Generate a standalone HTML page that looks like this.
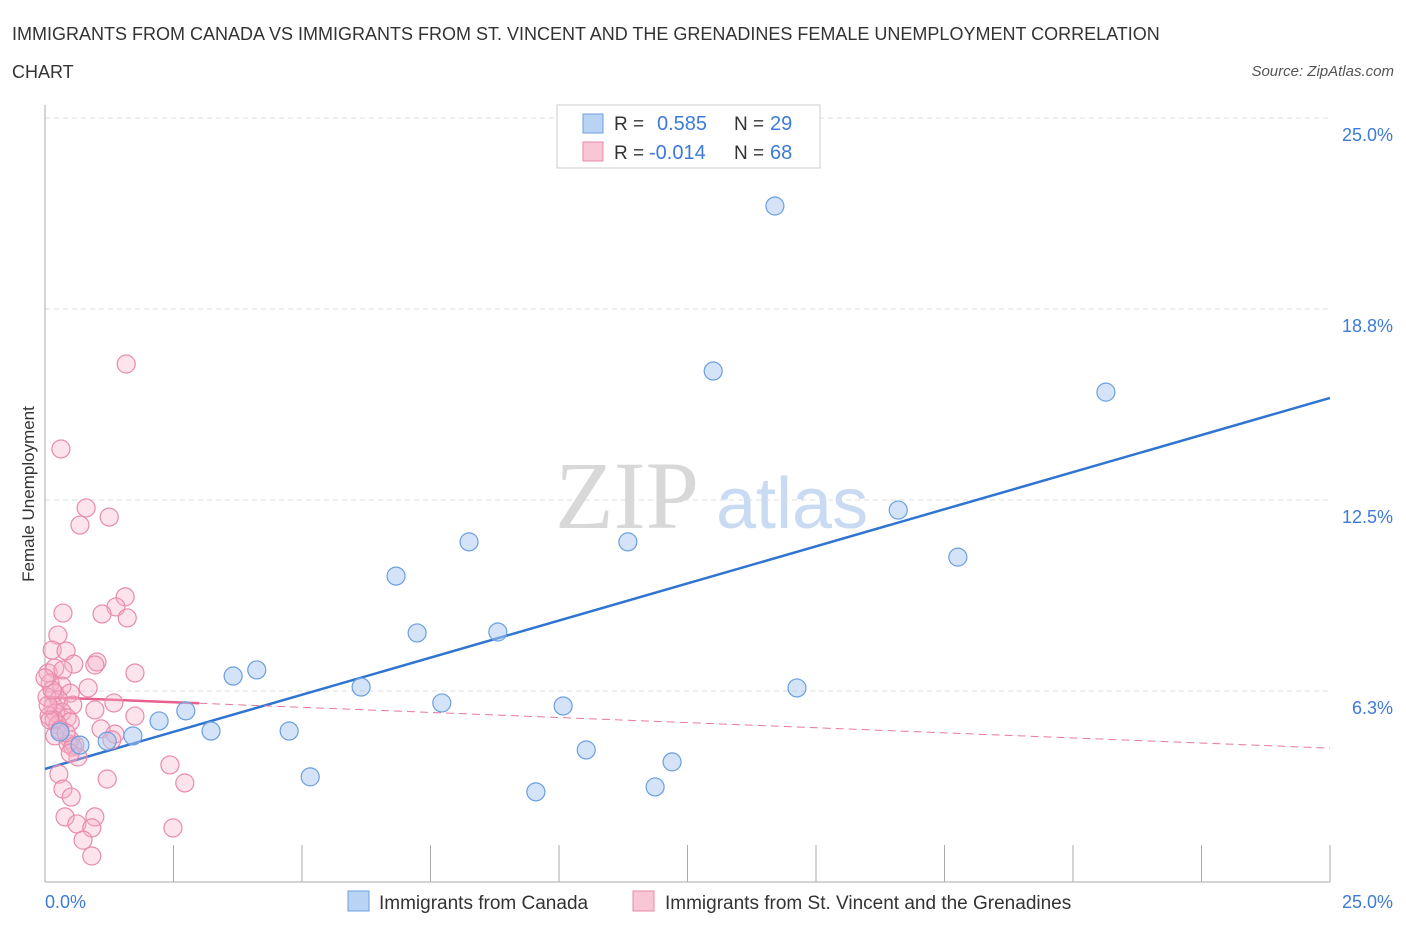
<!DOCTYPE html>
<html><head><meta charset="utf-8"><style>
body{margin:0;background:#fff;font-family:"Liberation Sans",sans-serif}
svg text{font-family:"Liberation Sans",sans-serif}
</style></head><body>
<svg width="1406" height="930" viewBox="0 0 1406 930">
<text x="12" y="40" font-size="18" fill="#333">IMMIGRANTS FROM CANADA VS IMMIGRANTS FROM ST. VINCENT AND THE GRENADINES FEMALE UNEMPLOYMENT CORRELATION</text>
<text x="12" y="78" font-size="18" fill="#333">CHART</text>
<text x="1394" y="76" font-size="15" fill="#555" font-style="italic" text-anchor="end">Source: ZipAtlas.com</text>
<g>
<text x="555" y="528" font-size="96" fill="#d8d8d8" font-family="Liberation Serif" style="font-family:'Liberation Serif',serif">ZIP</text>
<text x="716" y="528" font-size="72" fill="#c9daf3">atlas</text>
</g>
<g id="grid"></g>
<g id="axes"></g>
<g id="lines"></g>
<g id="pts"></g>
<text transform="translate(34,494) rotate(-90)" font-size="17" fill="#333" text-anchor="middle">Female Unemployment</text>
<text x="45" y="908" font-size="18" fill="#3d7bd9">0.0%</text>
<text x="1393" y="908" font-size="18" fill="#3d7bd9" text-anchor="end">25.0%</text>
<g>
<rect x="557" y="105" width="263" height="63" fill="#fff" stroke="#ccc"/>
<rect x="583" y="114" width="20" height="19" fill="#b9d3f5" stroke="#6a9fe0"/>
<text x="614" y="130" font-size="19" fill="#333">R =</text>
<text x="657" y="130" font-size="20" fill="#3d7bd9">0.585</text>
<text x="734" y="130" font-size="19" fill="#333">N =</text>
<text x="770" y="130" font-size="20" fill="#3d7bd9">29</text>
<rect x="583" y="142" width="20" height="19" fill="#f9c6d5" stroke="#e889a8"/>
<text x="614" y="159" font-size="19" fill="#333">R =</text>
<text x="649" y="159" font-size="20" fill="#3d7bd9">-0.014</text>
<text x="734" y="159" font-size="19" fill="#333">N =</text>
<text x="770" y="159" font-size="20" fill="#3d7bd9">68</text>
</g>
<g>
<rect x="348" y="891" width="21" height="20" fill="#b9d3f5" stroke="#6a9fe0"/>
<text x="379" y="909" font-size="19" fill="#333">Immigrants from Canada</text>
<rect x="633" y="891" width="21" height="20" fill="#f9c6d5" stroke="#e889a8"/>
<text x="665" y="909" font-size="19" fill="#333">Immigrants from St. Vincent and the Grenadines</text>
</g>
</svg>
<script>
const yTicks=[6.25,12.5,18.75,25];
const yTickLabels=["6.3%","12.5%","18.8%","25.0%"];
const canadaX=[14.2,13.0,20.64,16.6,11.34,8.25,17.76,6.83,7.24,8.81,4.12,3.66,6.15,14.63,7.72,10.08,2.74,2.22,3.23,4.75,1.71,1.21,0.68,10.53,12.2,5.16,9.55,11.87,0.29];
const canadaY=[22.12,16.72,16.03,12.17,11.13,11.13,10.63,10.01,8.15,8.18,6.94,6.74,6.38,6.35,5.86,5.76,5.60,5.27,4.94,4.94,4.78,4.61,4.48,4.32,3.93,3.44,2.95,3.11,4.91];
const svgX=[1.58,0.31,0.80,1.25,0.68,1.56,1.38,1.11,1.60,0.35,0.25,0.14,0.41,0.56,1.01,0.97,0.06,0.19,0.35,1.75,0.10,0.33,0.84,0.19,0.49,0.04,1.34,0.27,0.54,0.16,0.97,0.33,1.75,0.21,0.08,0.43,0.18,0.49,0.25,1.09,0.19,0.49,0.58,0.45,1.36,1.30,0.54,0.64,0.49,2.43,0.27,1.21,2.72,0.35,0.51,0.97,0.39,0.62,0.91,2.49,0.74,0.91,0.10,0.06,0.29,0.41,0.14,0.0];
const svgY=[16.95,14.17,12.24,11.94,11.68,9.33,9.0,8.77,8.64,8.80,8.08,7.59,7.56,7.13,7.20,7.10,6.84,7.00,6.94,6.84,6.51,6.41,6.35,6.18,6.18,6.05,5.86,5.96,5.79,5.76,5.63,5.56,5.43,5.53,5.43,5.37,5.30,5.24,5.14,5.01,4.78,4.65,4.48,4.52,4.84,4.65,4.42,4.09,4.22,3.83,3.53,3.37,3.24,3.04,2.78,2.13,2.13,1.90,1.77,1.77,1.37,0.85,5.30,5.79,4.97,4.88,6.28,6.68];
const canadaTrend=[3.70,15.84];
const svgTrend=[6.05,4.38];
const svgSolidEnd=[3.0];
const NS="http://www.w3.org/2000/svg";
const X=v=>45+v*(1285/25), Y=v=>882-v*(764/25);
function mk(tag,attrs,parent){const e=document.createElementNS(NS,tag);for(const k in attrs)e.setAttribute(k,attrs[k]);document.getElementById(parent).appendChild(e);return e;}
yTicks.forEach((t,i)=>{
 const l=mk('line',{x1:45,x2:1330,y1:Y(t),y2:Y(t),stroke:'#ddd','stroke-dasharray':'5,4'},'grid');
 
 
 const tx=mk('text',{x:1393,y:Y(t)+23,'font-size':18,fill:'#3d7bd9','text-anchor':'end'},'grid');
 tx.textContent=yTickLabels[i];
 
 
});
const ax=mk('line',{x1:45,x2:45,y1:105,y2:882,stroke:'#aaa'},'axes');


const bx=mk('line',{x1:45,x2:1330,y1:882,y2:882,stroke:'#aaa'},'axes');


for(let i=0;i<=10;i++){const t=mk('line',{x1:X(i*2.5),x2:X(i*2.5),y1:845,y2:882,stroke:'#aaa'},'axes');
 
 }
const bl=mk('line',{x1:X(0),y1:Y(canadaTrend[0]),x2:X(25),y2:Y(canadaTrend[1]),stroke:'#2f74d0','stroke-width':2.5},'lines');


const sv=v=>svgTrend[0]+(svgTrend[1]-svgTrend[0])*v/25;
const pd=mk('line',{x1:X(svgSolidEnd[0]),y1:Y(sv(svgSolidEnd[0])),x2:X(25),y2:Y(svgTrend[1]),stroke:'#e8799f','stroke-width':1,'stroke-dasharray':'8,5'},'lines');


const ps=mk('line',{x1:X(0),y1:Y(svgTrend[0]),x2:X(svgSolidEnd[0]),y2:Y(sv(svgSolidEnd[0])),stroke:'#e8608f','stroke-width':2.5},'lines');


svgX.forEach((x,i)=>{const c=mk('circle',{cx:X(x),cy:Y(svgY[i]),r:9,fill:'rgba(247,176,200,0.35)',stroke:'#e98bab','stroke-width':1.2},'pts');
 
 });
canadaX.forEach((x,i)=>{const c=mk('circle',{cx:X(x),cy:Y(canadaY[i]),r:9,fill:'rgba(169,200,240,0.5)',stroke:'#6a9fe0','stroke-width':1.2},'pts');
 
 });
</script>
</body></html>
